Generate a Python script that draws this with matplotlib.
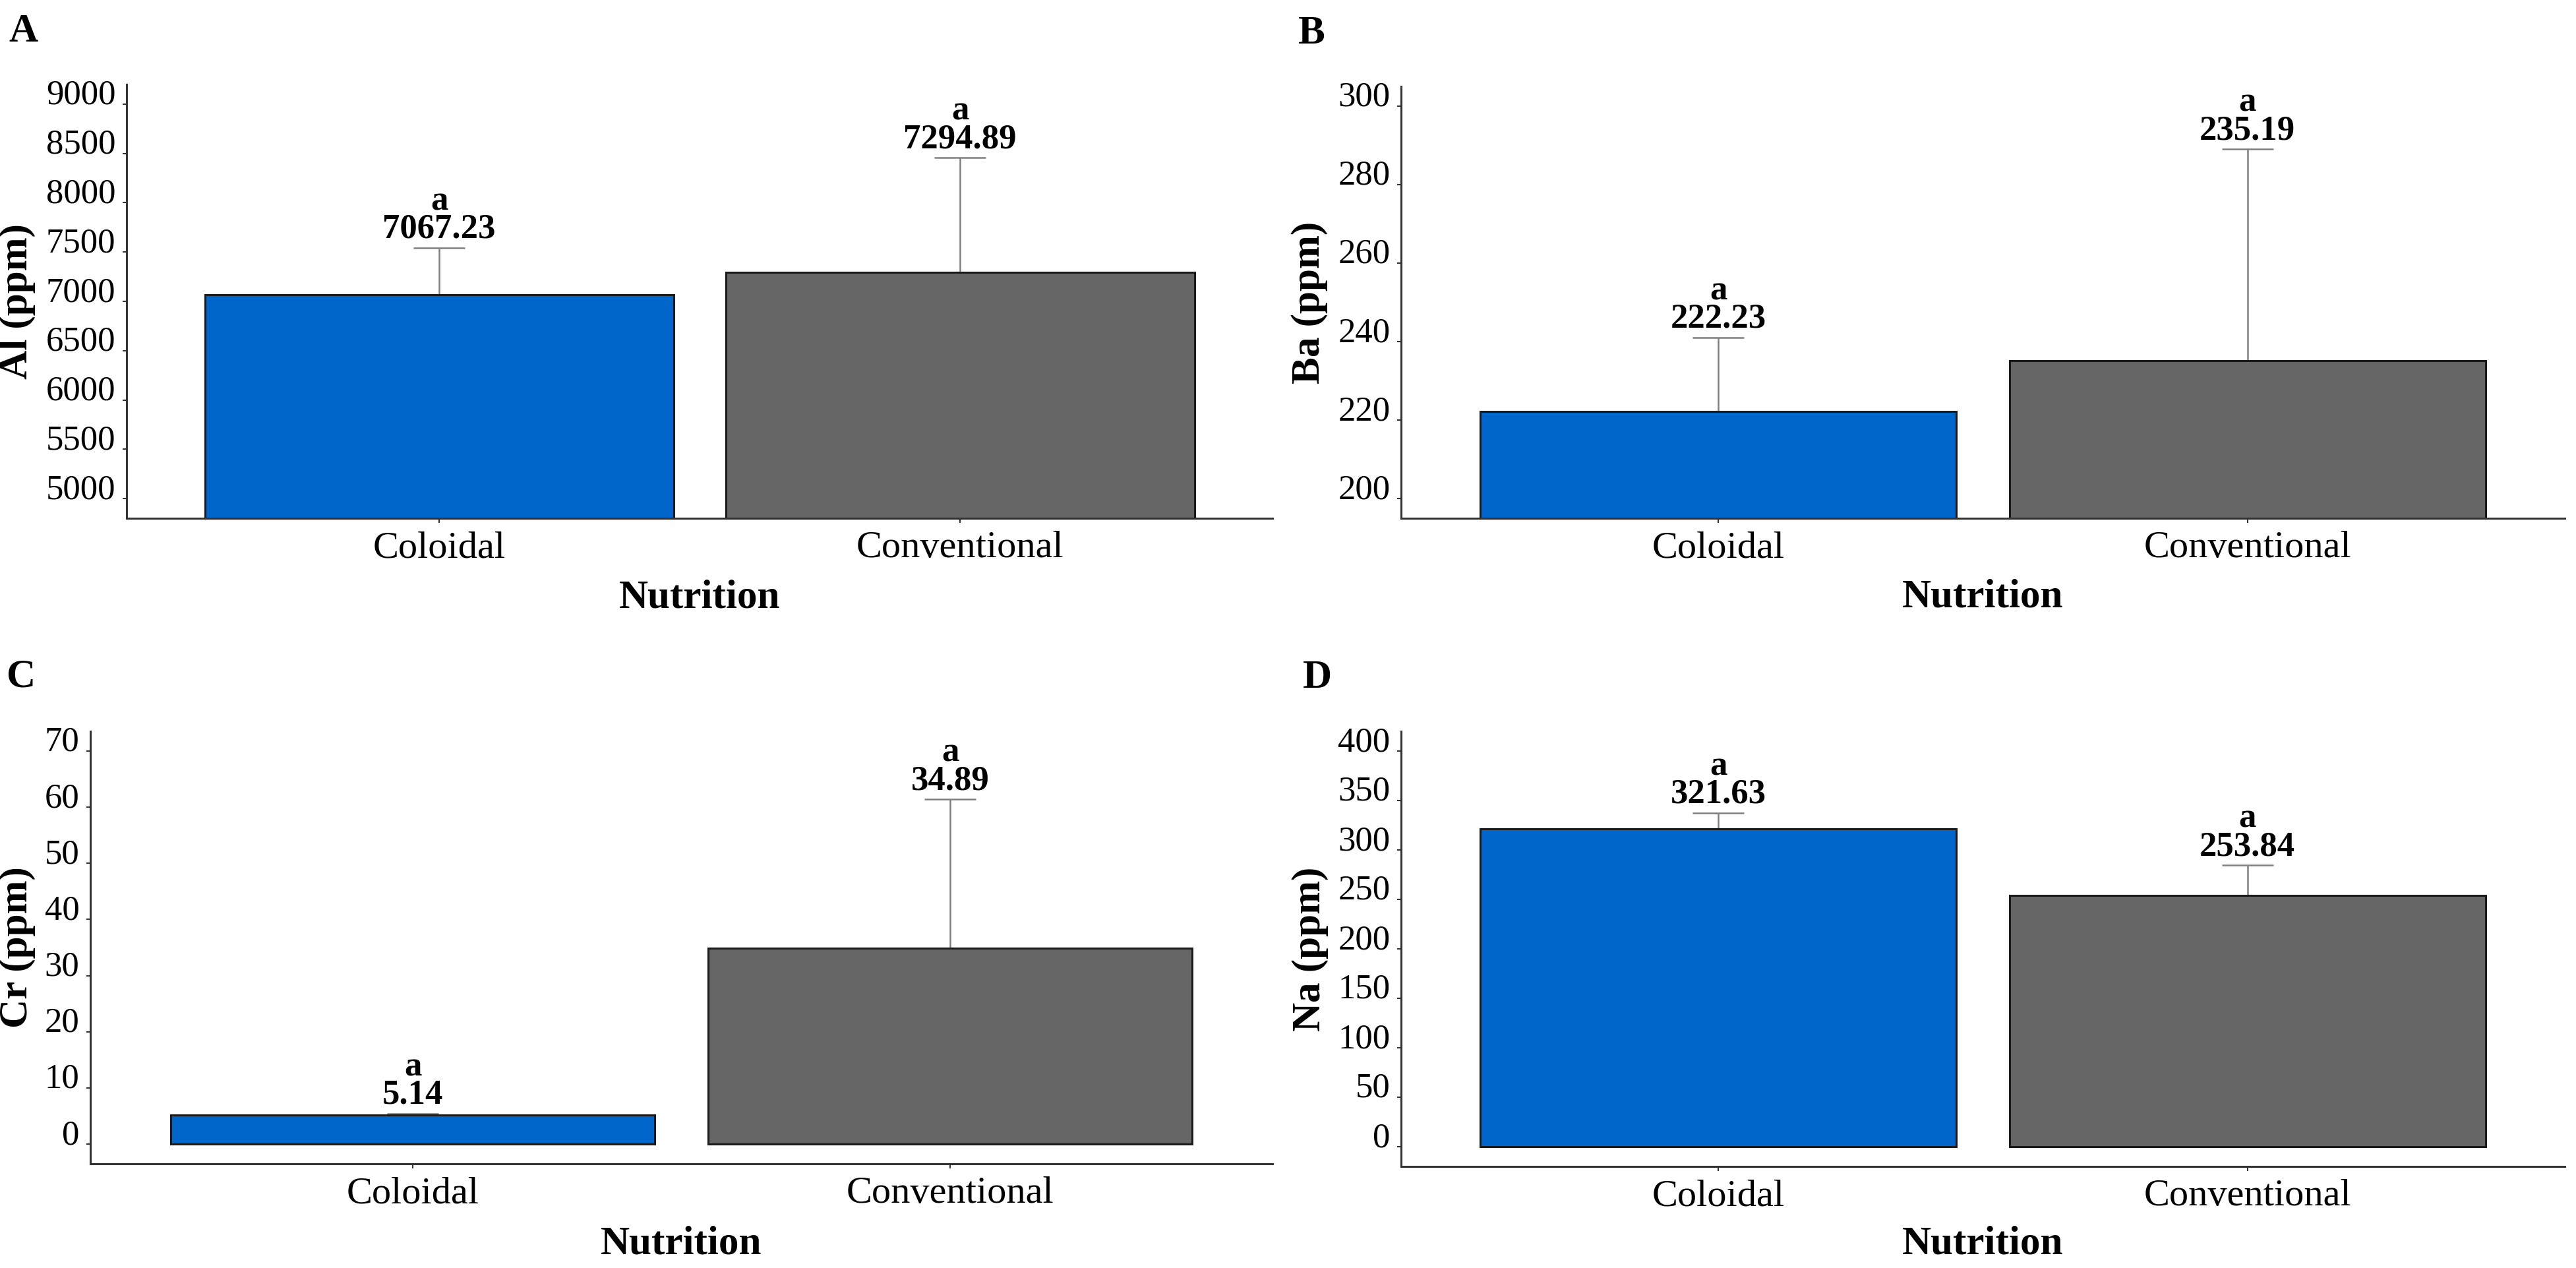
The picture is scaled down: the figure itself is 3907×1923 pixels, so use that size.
import matplotlib
matplotlib.use("Agg")
import matplotlib.pyplot as plt

plt.rcParams["font.family"] = ["Liberation Serif", "DejaVu Serif"]

nutrition = ["Coloidal", "Conventional"]

al_mean = [7067.23, 7294.89]
al_se = [475, 1160]

ba_mean = [222.23, 235.19]
ba_se = [18.8, 53.8]

cr_mean = [5.14, 34.89]
cr_se = [0.27, 26.5]

na_mean = [321.63, 253.84]
na_se = [15.9, 30.7]

bar_colors = ["#0066cc", "#666666"]

W, H = 3907, 1923
fig = plt.figure(figsize=(W / 100, H / 100), dpi=100)


def rect(left, top, right, bottom):
    return [left / W, 1 - bottom / H, (right - left) / W, (bottom - top) / H]


panels = [
    # letter, letter pos, axes box (px), ylabel, means, se, ylim, ticks, ylabel x, xlabel y
    ("A", (13, 20), rect(192, 128, 1930, 786), "Al (ppm)", al_mean, al_se,
     (4800, 9200), range(5000, 9001, 500), -0.0794, -0.140),
    ("B", (1969, 23), rect(2125, 131, 3890, 786), "Ba (ppm)", ba_mean, ba_se,
     (195, 305), range(200, 301, 20), -0.0629, -0.140),
    ("C", (10, 998), rect(137, 1109, 1930, 1765), "Cr (ppm)", cr_mean, cr_se,
     (-3.5, 73.5), range(0, 71, 10), -0.0463, -0.142),
    ("D", (1976, 1000), rect(2125, 1109, 3890, 1769), "Na (ppm)", na_mean, na_se,
     (-20, 420), range(0, 401, 50), -0.0623, -0.136),
]

x = [1, 2]

for letter, lpos, box, ylab, means, se, ylim, ticks, ylx, xly in panels:
    ax = fig.add_axes(box)

    ax.errorbar(x, means, yerr=se, fmt="none", ecolor="#808080",
                elinewidth=1.8, capsize=28, capthick=1.8, zorder=1)
    ax.bar(x, means, width=0.9, color=bar_colors, edgecolor="#1a1a1a",
           linewidth=2.2, zorder=2)

    for xi, m, s in zip(x, means, se):
        ax.annotate(f"a\n{m:.2f}", xy=(xi, m + s), xytext=(0, 3),
                    textcoords="offset points", ha="center", va="bottom",
                    fontsize=38, fontweight="bold", linespacing=0.85)

    ax.set_xlim(0.4, 2.6)
    ax.set_ylim(*ylim)
    ax.set_xticks(x)
    ax.set_xticklabels(nutrition, fontsize=42)
    ax.set_yticks(list(ticks))
    ax.set_yticklabels([str(t) for t in ticks], fontsize=38, va="baseline")

    for side in ["top", "right"]:
        ax.spines[side].set_visible(False)
    for side in ["left", "bottom"]:
        ax.spines[side].set_linewidth(2.2)
        ax.spines[side].set_color("#333333")

    ax.tick_params(axis="y", length=4, width=1.5, color="#333333", pad=8)
    ax.tick_params(axis="x", length=5, width=1.5, color="#333333", pad=9)

    ax.set_ylabel(ylab, fontsize=44, fontweight="bold")
    ax.yaxis.set_label_coords(ylx, 0.5)
    ax.set_xlabel("Nutrition", fontsize=44, fontweight="bold")
    ax.xaxis.set_label_coords(0.5, xly)

    fig.text(lpos[0] / W, 1 - lpos[1] / H, letter, ha="left", va="top",
             fontsize=44, fontweight="bold")

fig.savefig("out.png", dpi=100)
